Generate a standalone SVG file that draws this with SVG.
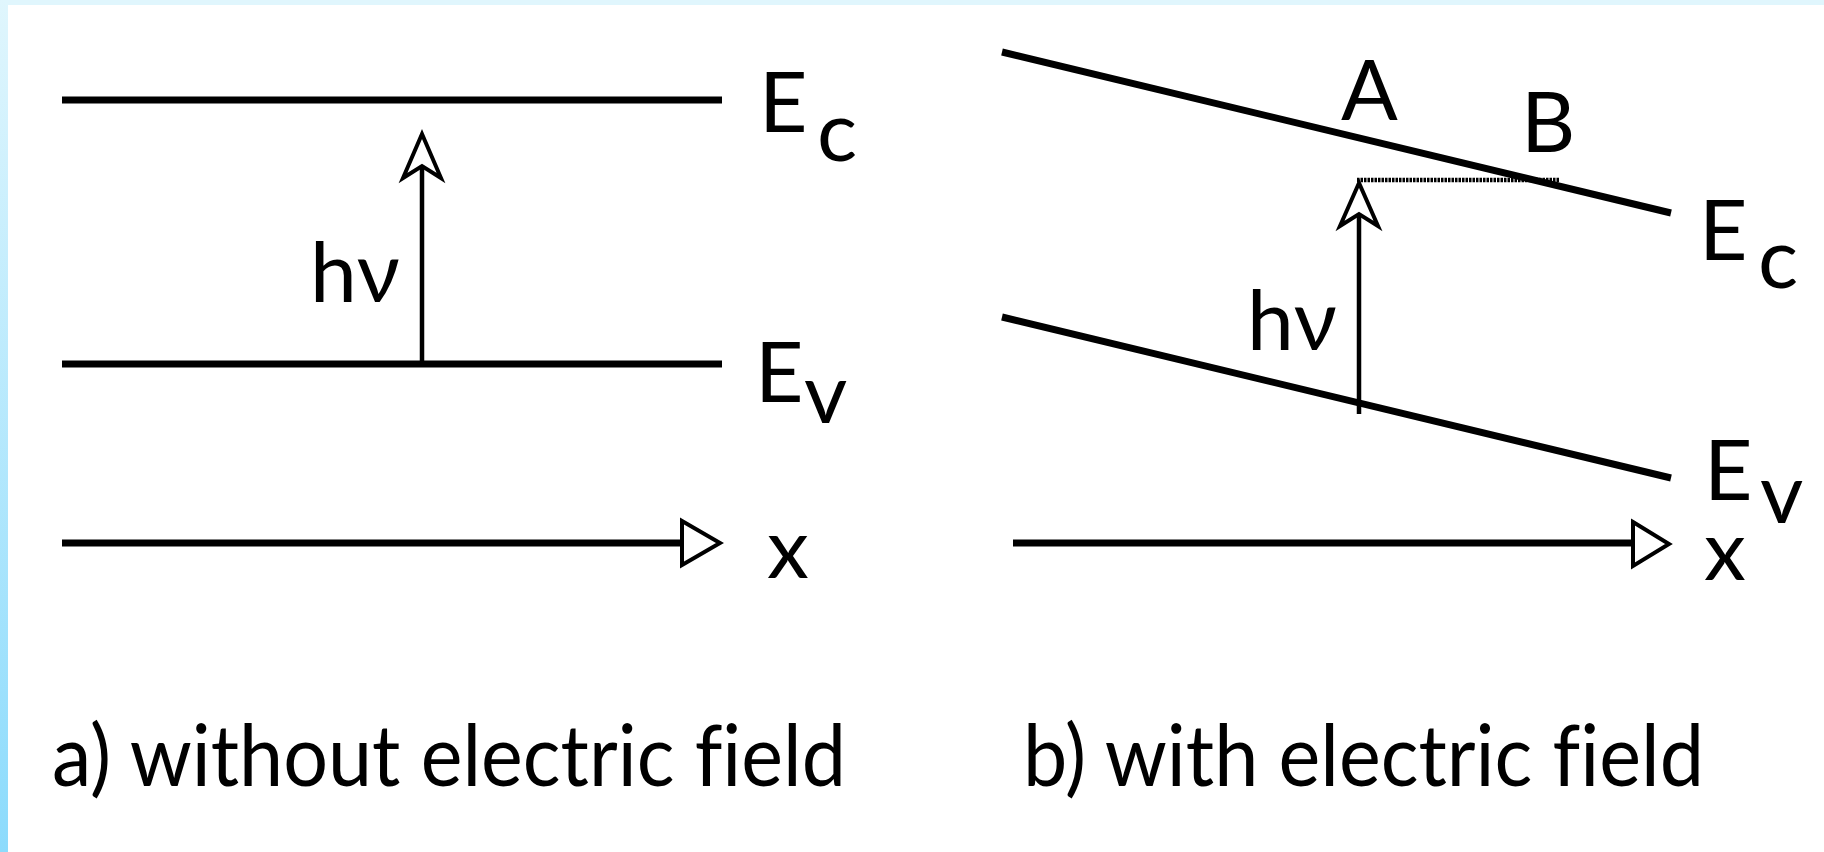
<svg xmlns="http://www.w3.org/2000/svg" width="1824" height="852" viewBox="0 0 1824 852">
<defs>
<linearGradient id="side" x1="0" y1="0" x2="0" y2="1">
<stop offset="0" stop-color="#e0f6fd"/>
<stop offset="1" stop-color="#8cdbfc"/>
</linearGradient>
<style>
.band{stroke:#000;stroke-width:7;fill:none;stroke-linecap:butt}
.shaft{stroke:#000;stroke-width:4.5;fill:none}
.head{stroke:#000;stroke-width:4;fill:#fff;stroke-linejoin:miter}
.dot{stroke:#000;stroke-width:4.5;fill:none;stroke-dasharray:2.5 1}
.t{font-family:Lato,"Noto Sans","DejaVu Sans",sans-serif;fill:#000;font-variant-ligatures:none;font-feature-settings:"liga" 0}
.lbl{font-size:84px}
.cap{font-size:86px}
</style>
</defs>
<rect x="0" y="0" width="1824" height="852" fill="#fff"/>
<rect x="0" y="0" width="1824" height="5" fill="#e0f6fd"/>
<rect x="0" y="0" width="8" height="852" fill="url(#side)"/>

<g id="connectors">
<g id="panel-a-lines">
<line class="band" x1="62" y1="100" x2="722" y2="100"/>
<line class="band" x1="62" y1="364" x2="722" y2="364"/>
<line class="band" x1="62" y1="543" x2="682" y2="543"/>
<polygon class="head" points="682,521 720,543 682,565"/>
<line class="shaft" x1="422" y1="366" x2="422" y2="166"/>
<polygon class="head" points="422,134 403,178 422,166 441,178"/>
</g>
<g id="panel-b-lines">
<line class="band" x1="1002" y1="52" x2="1671" y2="213"/>
<line class="band" x1="1002" y1="317" x2="1671" y2="478"/>
<line class="band" x1="1013" y1="543" x2="1633" y2="543"/>
<polygon class="head" points="1633,522 1669,544 1633,566"/>
<line class="dot" x1="1357" y1="180" x2="1559" y2="180"/>
<line class="shaft" x1="1359" y1="414" x2="1359" y2="214"/>
<polygon class="head" points="1359,183 1340,226 1359,214 1378,226"/>
</g>
</g>

<g id="label-ec-a"><text class="t lbl" x="759" y="132">E<tspan x="817" y="161">c</tspan></text></g>
<g id="label-ev-a"><text class="t lbl" x="755" y="402">E<tspan x="804" y="423">v</tspan></text></g>
<g id="label-x-a"><text class="t lbl" x="767" y="578">x</text></g>
<g id="label-hv-a"><text class="t lbl" x="310" y="302">hν</text></g>

<g id="label-A"><text class="t lbl" x="1341" y="120">A</text></g>
<g id="label-B"><text class="t lbl" x="1521" y="152">B</text></g>
<g id="label-ec-b"><text class="t lbl" x="1699" y="260">E<tspan x="1758" y="288">c</tspan></text></g>
<g id="label-ev-b"><text class="t lbl" x="1704" y="500">E<tspan x="1760" y="523">v</tspan></text></g>
<g id="label-x-b"><text class="t lbl" x="1704" y="580">x</text></g>
<g id="label-hv-b"><text class="t lbl" x="1247" y="350">hν</text></g>

<g id="caption-a"><text class="t cap" x="52" y="786" textLength="794" lengthAdjust="spacingAndGlyphs">a) without electric field</text></g>
<g id="caption-b"><text class="t cap" x="1023" y="786" textLength="681" lengthAdjust="spacingAndGlyphs">b) with electric field</text></g>
</svg>
